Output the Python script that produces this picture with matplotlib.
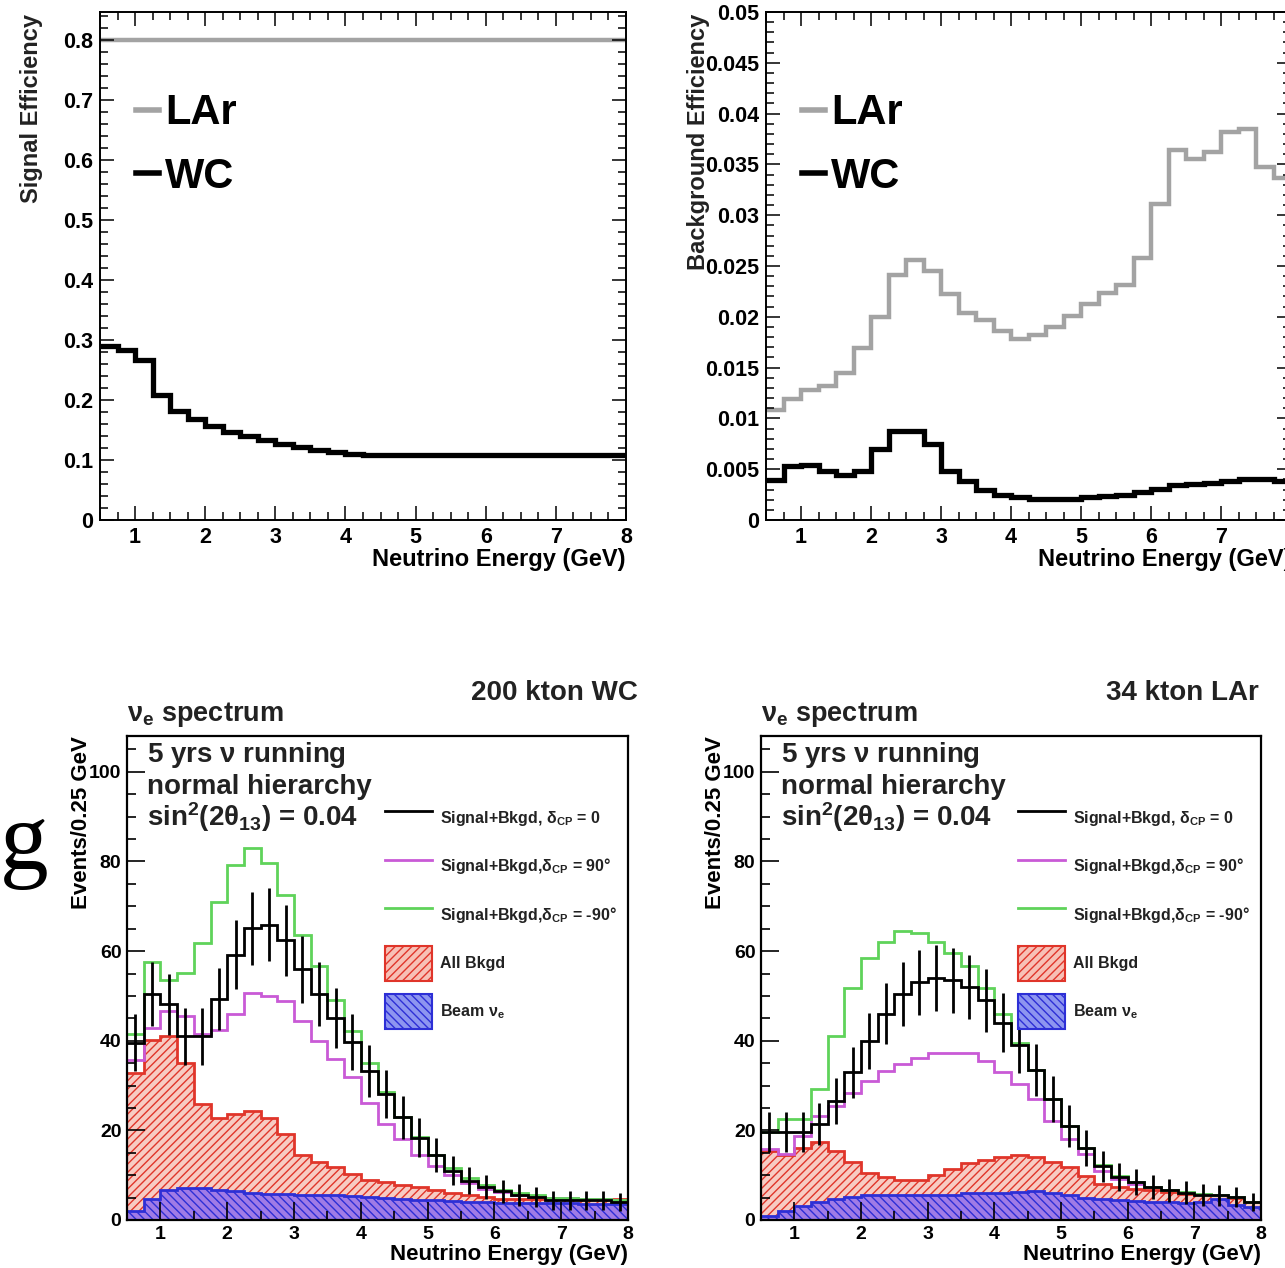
import numpy as np
import matplotlib
matplotlib.use('Agg')
import matplotlib.pyplot as plt
from matplotlib.lines import Line2D
from matplotlib.patches import Patch
from matplotlib.ticker import MultipleLocator, FixedLocator

plt.rcParams['font.family'] = ['Liberation Sans', 'DejaVu Sans']
plt.rcParams['mathtext.fontset'] = 'custom'
plt.rcParams['mathtext.rm'] = 'Liberation Sans'
plt.rcParams['mathtext.it'] = 'Liberation Sans:italic'
plt.rcParams['mathtext.bf'] = 'Liberation Sans:bold'
plt.rcParams['mathtext.default'] = 'bf'
plt.rcParams['hatch.linewidth'] = 1.0

# 0.25 GeV bins from 0.5 to 8 GeV
edges = np.arange(0.5, 8.0001, 0.25)
centers = edges[:-1] + 0.125

# efficiencies (top row)
sig_eff_lar = [0.80] * 30
sig_eff_wc = [0.290, 0.283, 0.266, 0.209, 0.182, 0.168, 0.156, 0.146, 0.140, 0.134,
              0.127, 0.122, 0.117, 0.113, 0.110, 0.109, 0.108, 0.108, 0.108, 0.108,
              0.108, 0.108, 0.108, 0.108, 0.108, 0.108, 0.108, 0.108, 0.108, 0.108]
bkg_eff_lar = [0.0108, 0.0119, 0.0128, 0.0132, 0.0145, 0.0169, 0.0200, 0.0241, 0.0256, 0.0245,
               0.0222, 0.0204, 0.0197, 0.0186, 0.0178, 0.0182, 0.0190, 0.0201, 0.0213, 0.0223,
               0.0231, 0.0258, 0.0311, 0.0364, 0.0355, 0.0362, 0.0382, 0.0385, 0.0347, 0.0337]
bkg_eff_wc = [0.0039, 0.0053, 0.0054, 0.0048, 0.0044, 0.0048, 0.0070, 0.0088, 0.0088, 0.0075,
              0.0048, 0.0038, 0.0030, 0.0025, 0.0023, 0.0021, 0.0021, 0.0021, 0.0023, 0.0024,
              0.0025, 0.0028, 0.0031, 0.0034, 0.0035, 0.0036, 0.0038, 0.0040, 0.0040, 0.0038]

# nu_e spectra, 200 kton WC
wc_dcp0 = [39.6, 50.4, 48.1, 41.0, 41.0, 49.3, 59.2, 65.1, 65.9, 62.4,
           55.9, 50.4, 45.1, 39.7, 33.3, 28.1, 22.9, 18.4, 14.4, 11.0,
           8.8, 7.3, 6.4, 5.6, 5.1, 4.4, 4.4, 4.4, 4.4, 4.0]
wc_dcp0_err = [6.3, 7.1, 6.9, 6.4, 6.4, 7.0, 7.7, 8.1, 8.1, 7.9,
               7.5, 7.1, 6.7, 6.3, 5.8, 5.3, 4.8, 4.3, 3.8, 3.3,
               3.0, 2.7, 2.5, 2.4, 2.3, 2.1, 2.1, 2.1, 2.1, 2.0]
wc_dcp90 = [35.6, 42.8, 46.7, 45.6, 41.5, 42.4, 45.9, 50.7, 50.0, 48.9,
            44.4, 40.0, 35.9, 31.8, 26.0, 21.5, 18.0, 14.5, 12.0, 10.0,
            8.2, 7.0, 6.2, 5.6, 5.2, 5.0, 4.8, 4.7, 4.6, 4.5]
wc_dcpm90 = [41.4, 57.5, 53.6, 55.1, 61.8, 71.0, 79.2, 82.9, 79.6, 72.5,
             63.6, 56.6, 49.2, 42.1, 35.1, 28.5, 23.0, 18.5, 14.5, 11.5,
             9.3, 7.8, 6.8, 6.0, 5.5, 5.0, 4.8, 4.7, 4.6, 4.4]
wc_allbkg = [32.9, 40.1, 41.0, 35.1, 25.9, 22.7, 23.6, 24.4, 22.7, 19.2,
             14.5, 12.9, 11.8, 10.3, 9.0, 8.4, 7.9, 7.3, 6.7, 6.1,
             5.6, 5.1, 4.7, 4.6, 4.6, 4.6, 4.6, 4.6, 4.6, 4.6]
wc_beamnue = [2.1, 4.7, 6.6, 7.1, 7.1, 6.8, 6.4, 6.1, 5.9, 5.9,
              5.6, 5.6, 5.5, 5.3, 5.1, 4.8, 4.6, 4.5, 4.4, 4.3,
              4.1, 4.0, 3.9, 3.8, 3.8, 3.7, 3.7, 3.6, 3.6, 3.5]

# nu_e spectra, 34 kton LAr
lar_dcp0 = [19.6, 19.6, 19.6, 21.4, 26.5, 33.0, 40.0, 46.0, 50.5, 53.0,
            54.0, 53.5, 52.0, 49.0, 44.0, 39.0, 33.5, 27.0, 21.0, 16.0,
            12.0, 9.6, 8.4, 7.3, 6.6, 6.1, 5.6, 5.5, 5.1, 4.1]
lar_dcp0_err = [4.4, 4.4, 4.4, 4.6, 5.1, 5.7, 6.3, 6.8, 7.1, 7.3,
                7.3, 7.3, 7.2, 7.0, 6.6, 6.2, 5.8, 5.2, 4.6, 4.0,
                3.5, 3.1, 2.9, 2.7, 2.6, 2.5, 2.4, 2.3, 2.3, 2.0]
lar_dcp90 = [15.9, 14.7, 18.8, 23.3, 25.5, 28.4, 31.0, 33.3, 34.7, 36.2,
             37.3, 37.3, 37.3, 35.5, 33.0, 30.3, 27.0, 22.1, 18.0, 14.7,
             11.0, 9.2, 8.1, 7.3, 6.7, 6.2, 5.9, 5.6, 5.1, 4.1]
lar_dcpm90 = [19.6, 22.5, 22.5, 29.2, 41.0, 51.8, 58.4, 62.1, 64.4, 64.0,
              62.1, 59.6, 56.6, 51.8, 45.9, 39.5, 33.5, 27.0, 21.0, 16.0,
              12.2, 9.8, 8.5, 7.4, 6.7, 6.2, 5.7, 5.5, 5.1, 4.1]
lar_allbkg = [15.5, 14.5, 16.0, 17.3, 15.5, 13.0, 10.5, 9.6, 9.0, 9.0,
              10.0, 11.4, 12.8, 13.5, 14.0, 14.5, 14.0, 13.0, 11.8, 9.9,
              8.1, 7.3, 7.0, 6.6, 6.2, 5.9, 5.7, 5.5, 4.9, 4.1]
lar_beamnue = [1.0, 2.0, 3.2, 4.0, 4.6, 5.2, 5.5, 5.5, 5.5, 5.5,
               5.6, 5.6, 6.0, 6.0, 6.0, 6.3, 6.5, 6.0, 5.5, 4.8,
               4.7, 4.4, 4.3, 4.0, 4.0, 3.7, 4.1, 4.6, 3.4, 2.9]

RED = '#e0352a'
BLUE = '#2d2fd6'
PURPLE = '#c95ad6'
GREEN = '#5fd35a'
GRAY = '#a3a3a3'


def draw_efficiency(ax, lar, wc, ymax, major, minor, ylabel, label_x, xticks):
    ax.stairs(lar, edges, baseline=None, color=GRAY, lw=3.2)
    ax.stairs(wc, edges, baseline=None, color='black', lw=3.8)
    ax.set_xlim(0.5, 8)
    ax.set_ylim(0, ymax)
    ax.xaxis.set_major_locator(FixedLocator(xticks))
    ax.xaxis.set_minor_locator(MultipleLocator(0.25))
    ax.yaxis.set_major_locator(MultipleLocator(major))
    ax.yaxis.set_minor_locator(MultipleLocator(minor))
    ax.yaxis.set_major_formatter(lambda v, p: '0' if v == 0 else f'{v:g}')
    ax.tick_params(which='both', direction='in', top=True, right=True, width=1.1)
    ax.tick_params(which='major', length=10, labelsize=15.5, pad=5)
    ax.tick_params(which='minor', length=5.5)
    for lab in ax.get_xticklabels() + ax.get_yticklabels():
        lab.set_fontweight('bold')
    for s in ax.spines.values():
        s.set_linewidth(1.4)
    ax.set_xlabel('Neutrino Energy (GeV)', loc='right', fontsize=17, fontweight='bold')
    ax.xaxis.set_label_coords(1.0, -0.056)
    ax.set_ylabel(ylabel, loc='top', fontsize=17, fontweight='bold', color='#222222')
    ax.yaxis.set_label_coords(label_x, 0.997)
    handles = [Line2D([], [], color=GRAY, lw=4), Line2D([], [], color='black', lw=4)]
    leg = ax.legend(handles, ['LAr', 'WC'], loc='upper left', bbox_to_anchor=(0.068, 0.84),
                    frameon=False, fontsize=30, handlelength=0.55, handletextpad=0.15,
                    labelspacing=0.57, borderpad=0, borderaxespad=0)
    for t in leg.get_texts():
        t.set_fontweight('bold')


def draw_spectrum(ax, dcp0, dcp0_err, dcp90, dcpm90, allbkg, beamnue, title, title_x):
    ax.stairs(allbkg, edges, fill=True, baseline=0, facecolor='#f7cbc3',
              edgecolor=RED, hatch='////', lw=0)
    ax.stairs(beamnue, edges, fill=True, baseline=0, facecolor='#a07be6',
              edgecolor=BLUE, hatch='\\\\\\\\', lw=0)
    ax.stairs(allbkg, edges, baseline=None, color=RED, lw=2)
    ax.stairs(beamnue, edges, baseline=None, color=BLUE, lw=2)
    ax.stairs(dcp90, edges, baseline=None, color=PURPLE, lw=2)
    ax.stairs(dcpm90, edges, baseline=None, color=GREEN, lw=2)
    ax.stairs(dcp0, edges, baseline=None, color='black', lw=2)
    ax.errorbar(centers, dcp0, yerr=dcp0_err, fmt='none', ecolor='black', elinewidth=2, capsize=0)

    ax.set_xlim(0.5, 8)
    ax.set_ylim(0, 108)
    ax.xaxis.set_major_locator(MultipleLocator(1))
    ax.xaxis.set_minor_locator(MultipleLocator(0.5))
    ax.yaxis.set_major_locator(MultipleLocator(20))
    ax.yaxis.set_minor_locator(MultipleLocator(5))
    ax.tick_params(which='both', direction='in', width=1.2)
    ax.tick_params(which='major', length=13, labelsize=14, pad=4)
    ax.tick_params(which='minor', length=6.5)
    for lab in ax.get_xticklabels() + ax.get_yticklabels():
        lab.set_fontweight('bold')
    for s in ax.spines.values():
        s.set_linewidth(1.6)
    ax.set_xlabel('Neutrino Energy (GeV)', loc='right', fontsize=16, fontweight='bold')
    ax.xaxis.set_label_coords(1.0, -0.05)
    ax.set_ylabel('Events/0.25 GeV', loc='top', fontsize=16, fontweight='bold')
    ax.yaxis.set_label_coords(-0.07, 1.0)

    ax.text(title_x, 1.089, title, transform=ax.transAxes,
            ha='right', va='center', fontsize=20, fontweight='bold', color='#222222')
    ax.text(0.0, 1.045, r'$\nu_{e}$ spectrum', transform=ax.transAxes,
            ha='left', va='center', fontsize=19.5, fontweight='bold', color='#222222')
    ax.text(0.04, 0.96, r'5 yrs $\nu$ running', transform=ax.transAxes,
            ha='left', va='center', fontsize=20, fontweight='bold', color='#222222')
    ax.text(0.04, 0.894, 'normal hierarchy', transform=ax.transAxes,
            ha='left', va='center', fontsize=20, fontweight='bold', color='#222222')
    ax.text(0.04, 0.832, r'sin$^{2}$(2$\theta_{13}$) = 0.04', transform=ax.transAxes,
            ha='left', va='center', fontsize=20, fontweight='bold', color='#222222')

    handles = [Line2D([], [], color='black', lw=2),
               Line2D([], [], color=PURPLE, lw=2),
               Line2D([], [], color=GREEN, lw=2),
               Patch(facecolor='#f7c0b6', edgecolor=RED, hatch='////', lw=1.5),
               Patch(facecolor='#8d95f0', edgecolor=BLUE, hatch='\\\\\\\\', lw=1.5)]
    labels = [r'Signal+Bkgd, $\delta_{CP}$ = 0',
              r'Signal+Bkgd,$\delta_{CP}$ = 90°',
              r'Signal+Bkgd,$\delta_{CP}$ = -90°',
              'All Bkgd',
              r'Beam $\nu_{e}$']
    leg = ax.legend(handles, labels, loc='upper left', bbox_to_anchor=(0.514, 0.867),
                    frameon=False, fontsize=11.5, handlelength=2.95, handleheight=3.0,
                    handletextpad=0.5, labelspacing=0.84, borderpad=0, borderaxespad=0)
    for t in leg.get_texts():
        t.set_fontweight('bold')
        t.set_color('#222222')


fig = plt.figure(figsize=(12.85, 12.68), dpi=100)

ax1 = fig.add_axes([100 / 1285, 1 - 520 / 1268, 526 / 1285, 508 / 1268])
draw_efficiency(ax1, sig_eff_lar, sig_eff_wc, 0.847, 0.1, 0.02, 'Signal Efficiency', -0.108,
                [1, 2, 3, 4, 5, 6, 7, 8])

# the right end of this panel is cut off by the page, so no "8" label shows
ax2 = fig.add_axes([766 / 1285, 1 - 520 / 1268, 525 / 1285, 508 / 1268])
draw_efficiency(ax2, bkg_eff_lar, bkg_eff_wc, 0.05, 0.005, 0.001, 'Background Efficiency', -0.106,
                [1, 2, 3, 4, 5, 6, 7])

ax3 = fig.add_axes([127 / 1285, 1 - 1220 / 1268, 501 / 1285, 484 / 1268])
draw_spectrum(ax3, wc_dcp0, wc_dcp0_err, wc_dcp90, wc_dcpm90, wc_allbkg, wc_beamnue,
              '200 kton WC', 1.02)

ax4 = fig.add_axes([761 / 1285, 1 - 1220 / 1268, 500 / 1285, 484 / 1268])
draw_spectrum(ax4, lar_dcp0, lar_dcp0_err, lar_dcp90, lar_dcpm90, lar_allbkg, lar_beamnue,
              '34 kton LAr', 0.995)

# cut-off letter from the surrounding page
fig.text(0.0, 1 - 869 / 1268, 'g', fontsize=70, family='Liberation Serif',
         ha='left', va='baseline')

fig.savefig('out.png', dpi=100)
